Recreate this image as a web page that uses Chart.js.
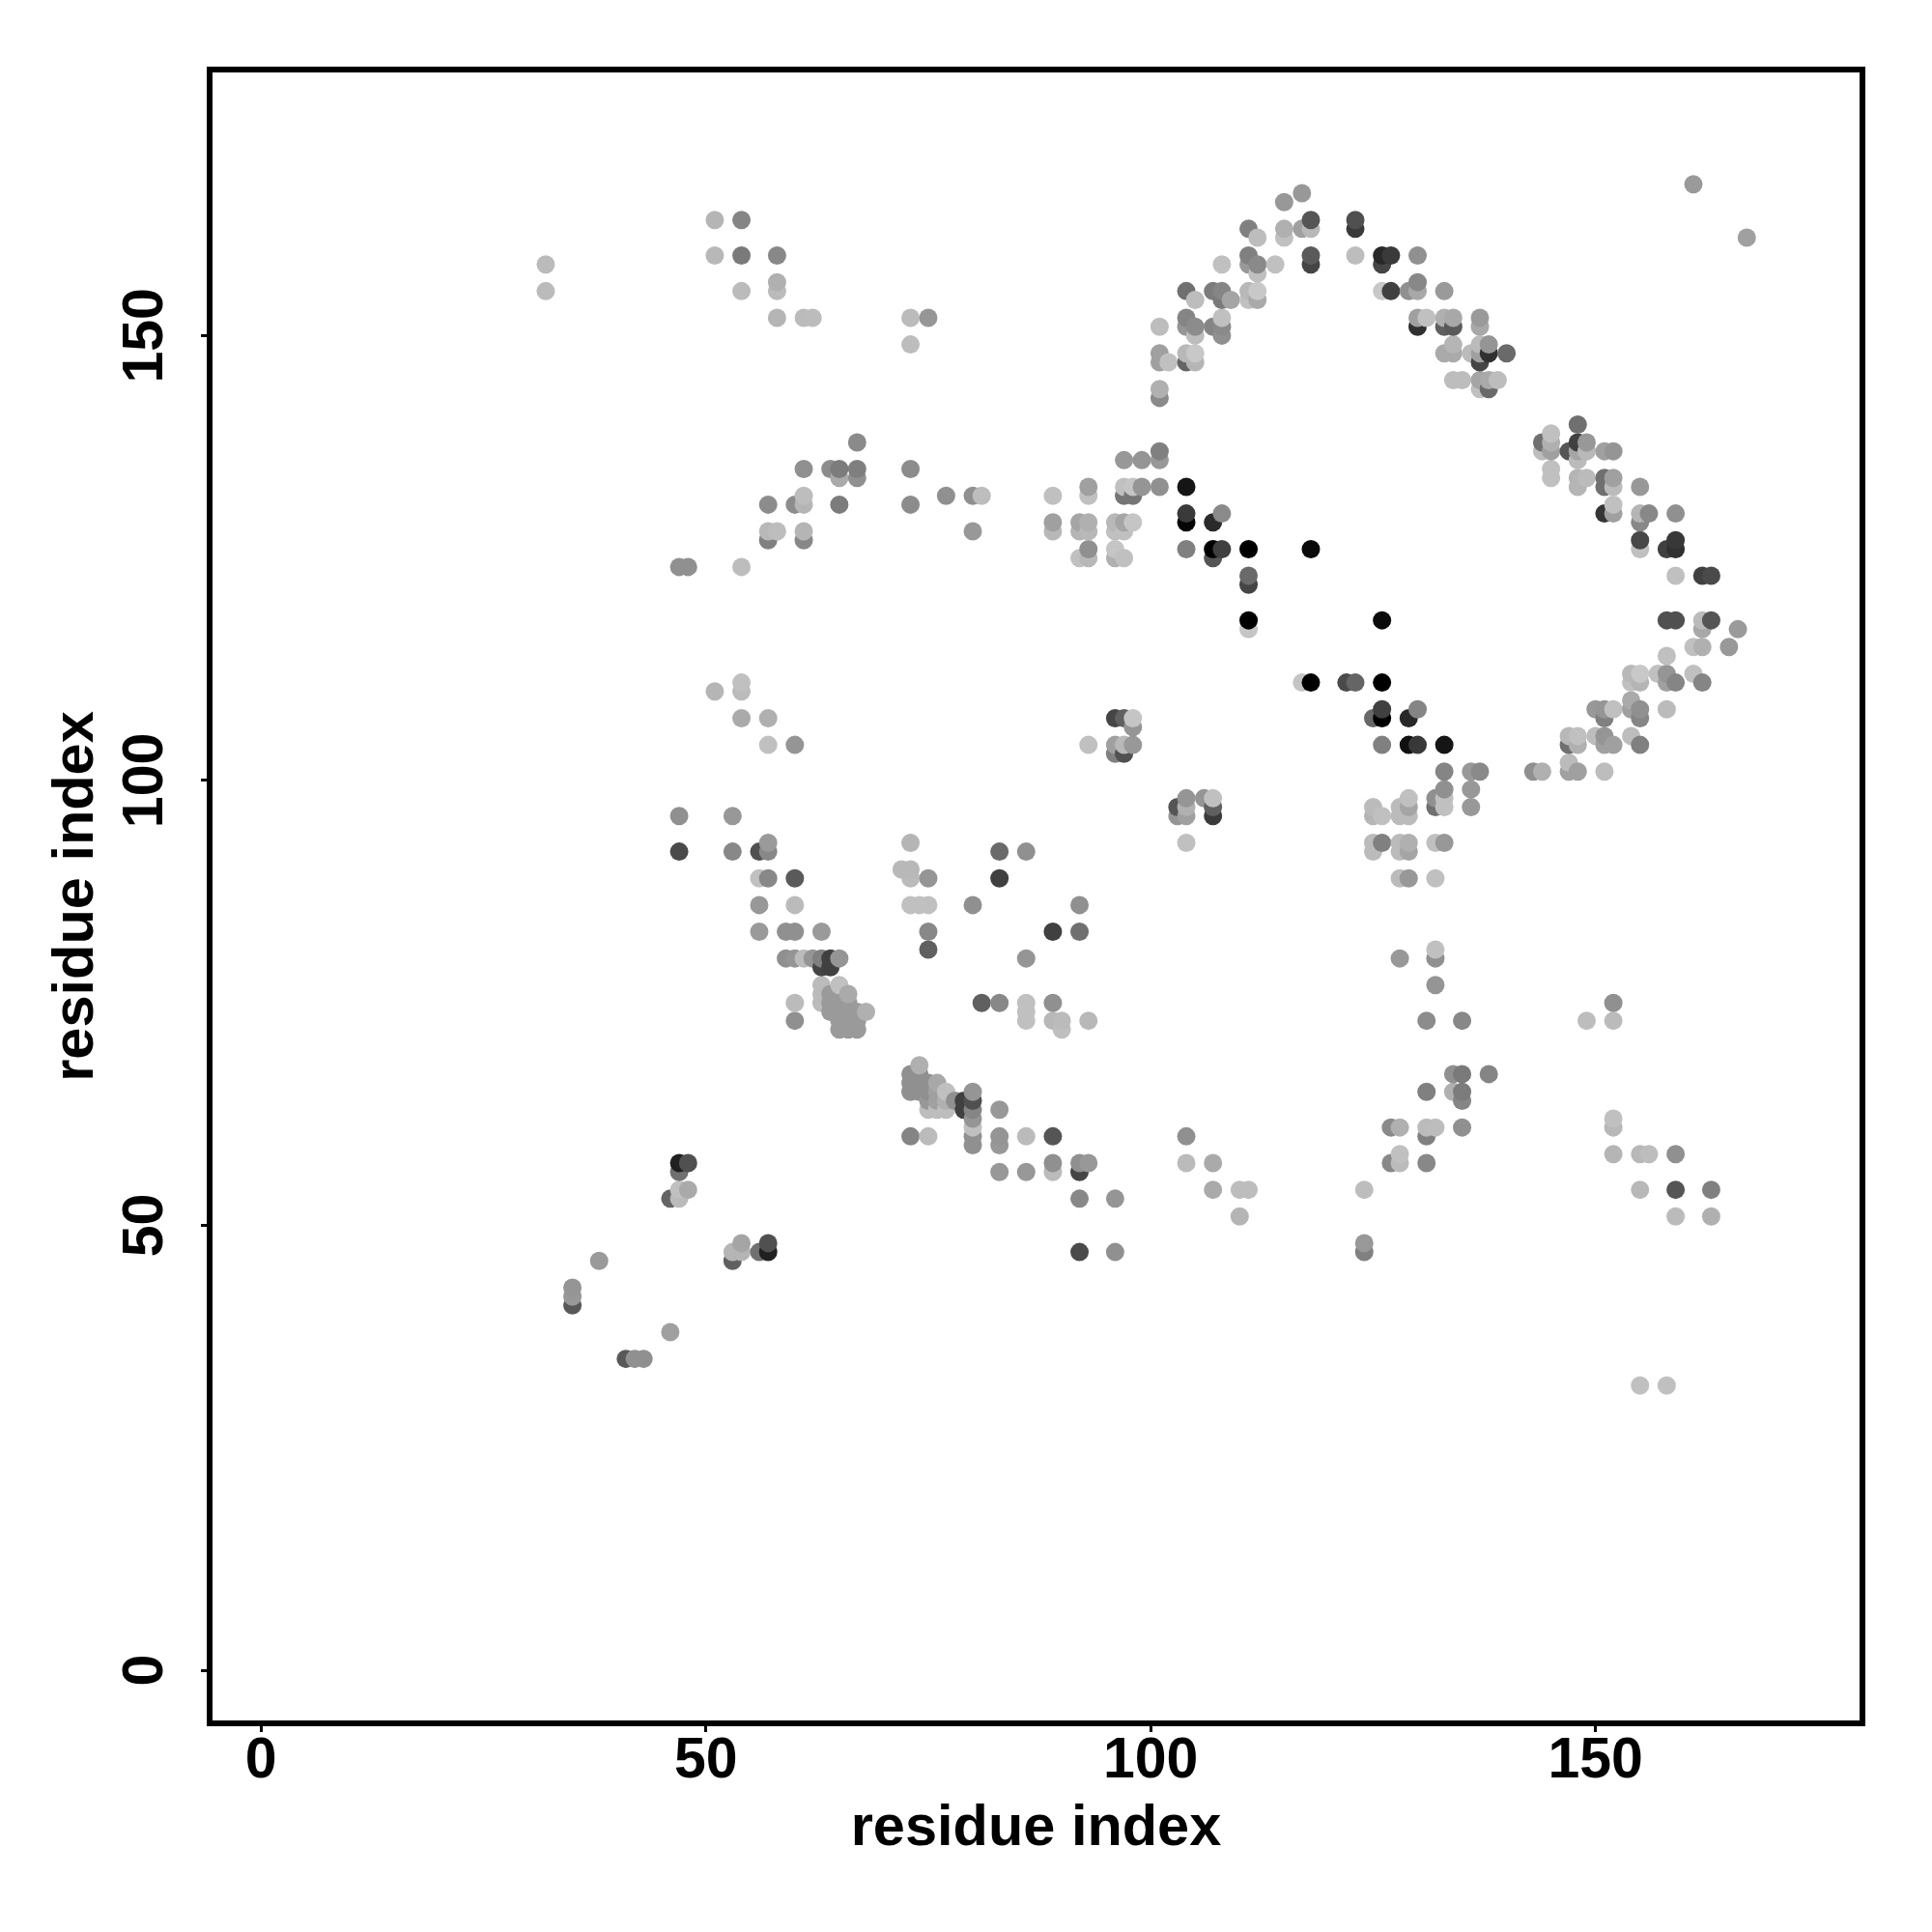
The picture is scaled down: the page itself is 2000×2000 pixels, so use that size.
<!DOCTYPE html>
<html>
<head>
<meta charset="utf-8">
<title>residue contacts</title>
<script src="https://cdn.jsdelivr.net/npm/chart.js@4/dist/chart.umd.min.js"></script>
<style>
    html, body { margin: 0; padding: 0; background: #fff; }
    canvas { display: block; }
</style>
</head>
<body>
<canvas id="contactChart" width="2000" height="2000"></canvas>
<script>
// Axis labels and ticks
const axisLabel = 'residue index';
const tickValues = [0, 50, 100, 150];

// One entry per residue on the x axis
const residueX = [
    32, 35, 38, 41, 42, 43, 46, 47, 48, 51, 53, 54, 56, 57, 58, 59, 60, 61, 62, 63,
    64, 65, 66, 67, 68, 72, 73, 74, 75, 76, 77, 78, 79, 80, 81, 83, 86, 89, 90, 92,
    93, 96, 97, 98, 99, 101, 102, 103, 104, 105, 106, 107, 108, 109, 110, 111, 112, 114, 115, 117,
    118, 122, 123, 124, 125, 126, 127, 128, 129, 130, 131, 132, 133, 134, 135, 136, 137, 138, 139, 140,
    143, 144, 145, 147, 148, 149, 150, 151, 152, 154, 155, 156, 157, 158, 159, 161, 162, 163, 165, 166, 167
];

// Contact partners of each residue in residueX
const residueY = [
    [155,158], [41,42,43], [46], [35], [35], [35], [38,53], [53,54,56,57,92,96,124], [54,57,124], [110,159,163],
    [46,47,92,96], [47,48,107,110,111,124,155,159,163], [47,83,86,89,92], [47,48,89,92,93,104,107,127,128,131],
    [128,152,155,156,159], [80,83], [73,75,80,83,86,89,104,131], [80,127,128,131,132,135,152], [80,152],
    [75,76,77,79,80,83],
    [74,75,76,79,80,135], [72,73,74,75,77,80,131,134,135], [72,73,74,75,76], [72,73,74,134,135,138], [74], [90],
    [60,65,66,67,86,89,90,93,131,135,149,152], [65,66,67,68,86], [60,63,64,65,66,81,83,86,89,152], [63,64,65,66],
    [63,64,65,132], [64], [63,64], [59,60,61,62,63,64,65,86,128,132], [75,132], [56,59,60,63,75,89,92],
    [56,60,73,74,75,80,92], [56,57,60,73,75,83,128,129,132], [72,73], [47,53,56,57,83,86,125,128,129],
    [57,73,104,125,126,128,129,132,133], [47,53,103,104,107,125,126,128,129], [103,104,107,125,128,129,132,133,136],
    [104,106,107,129,132,133], [133,136], [133,136,137,143,144,147,148,151], [147], [96,97],
    [57,60,93,96,97,98,126,129,130,133,147,148,151,152,155], [147,148,150,151,154], [98],
    [54,57,96,97,98,125,126,129,151,155], [126,130,150,151,152,154,155,158], [154], [51,54],
    [54,117,118,122,123,126,154,155,158,159,162], [154,155,157,158,161], [158], [161,162,165], [111,162,166],
    [111,126,158,159,162,163], [111], [111,159,162,163], [47,48,54], [92,93,96,97,107],
    [93,96,104,107,108,111,118,155,158,159], [57,61,155,159], [57,58,61,80,89,92,93,96,97],
    [89,92,93,96,97,98,104,107,155], [104,108,151,152,155,156,159], [57,60,61,65,73,152],
    [61,77,80,81,89,93,97,98], [93,97,98,99,101,104,148,151,152,155], [65,67,145,148,149,151,152],
    [61,64,65,67,73,145], [97,99,101,148], [101,144,145,147,148,149,151,152], [67,144,145,148,149], [145], [148],
    [101], [101,137,138], [134,135,137,138,139], [101,102,104,105,137], [101,104,105,133,134,136,137,138,140],
    [73,134,137,138], [105,108], [101,104,105,107,108,130,133,134,137], [58,61,62,73,75,104,108,130,131,133,134,137],
    [105,108,109,111,112], [32,54,58,104,107,108,111,112,126,127,129,130,133], [58,130], [112],
    [32,108,111,112,114,118,126], [51,54,58,111,118,123,126,127,130], [112,115,167], [111,115,117,118,123],
    [51,54,118,123], [115], [117], [161]
];

// Grey level of each contact, same layout as residueY
const greyLevel = [
    [0xbb,0xbb], [0x58,0x98,0x95], [0x9a], [0x58], [0x90], [0x90], [0xa0,0x65], [0xbb,0xc0,0x70,0x20,0x4a,0x90,0x90], [0xaa,0x50,0x90], [0xb5,0xb8,0xb5],
    [0x60,0xb5,0x88,0x98], [0xb5,0xa5,0xaa,0xbb,0xc0,0xbd,0xbb,0x7a,0x85], [0x70,0x9a,0x98,0xc0,0x50], [0x20,0x50,0x88,0x88,0x9a,0xc0,0xb0,0x80,0xb8,0x8c],
    [0xbd,0xb5,0xbb,0xb0,0x88], [0x90,0x90], [0x90,0xbb,0x95,0x90,0xbb,0x5a,0x95,0x8c], [0xbb,0x88,0xb5,0xb5,0xbd,0x90,0xbb], [0x95,0xbc],
    [0xbb,0xbb,0xbb,0x45,0x80,0x9a],
    [0x9a,0x9a,0x9a,0x40,0x40,0x8c], [0x9a,0x9a,0x9a,0x9a,0xc0,0x95,0x7c,0xaa,0x7c], [0x9a,0x9a,0x9a,0x9a,0xaa], [0x9a,0x9a,0x9a,0x90,0x7f,0x8a], [0xb0], [0xb8],
    [0x85,0x90,0x90,0x90,0xc0,0xbb,0xb8,0xb5,0x8c,0x8c,0xbd,0xbb], [0x90,0x90,0x90,0xb0,0xc0], [0xbb,0xbd,0x98,0x90,0x90,0x60,0x88,0xc0,0x95,0x96], [0xbd,0xa0,0xa0,0xa8],
    [0xbd,0xb0,0xc0,0x90], [0x90], [0x40,0x40], [0x90,0x90,0xc0,0x95,0x85,0x50,0x95,0x90,0x98,0x90], [0x60,0xbd], [0x98,0x98,0x95,0x98,0x88,0x40,0x6a],
    [0x98,0xbb,0xc0,0xc0,0xc0,0x95,0x90], [0xbb,0x90,0x55,0xb8,0x90,0x40,0xb8,0xa0,0xc0], [0xbf,0xbb], [0x4a,0x88,0x45,0x90,0x70,0x90,0xc0,0xb5,0xa5],
    [0x98,0xb8,0xc0,0xb8,0x90,0xb8,0xb0,0xc0,0xa0], [0x90,0x95,0x80,0xa0,0x45,0xb0,0xc5,0xc0,0xb8], [0x50,0xb8,0x60,0xc0,0xc0,0xa5,0x75,0xc0,0x98],
    [0x98,0x95,0xc5,0xc5,0x75,0xc5], [0x95,0x95], [0x90,0x98,0x80,0x8a,0xb0,0xa0,0xa0,0xbd], [0xc0], [0x95,0x55],
    [0xbb,0x90,0xc0,0xa0,0xb0,0x95,0x80,0x05,0x3a,0x15,0x65,0xb8,0x95,0x85,0x70], [0xb5,0xc8,0xbd,0x8c,0xbd], [0x95],
    [0xaa,0xaa,0x3a,0x60,0xc0,0x55,0x00,0x2a,0x85,0x7c], [0x40,0x8a,0x90,0x8a,0xc0,0x7a,0x85,0xc0], [0xa5], [0xb5,0xbd],
    [0xbd,0xc5,0x00,0x45,0x6a,0x00,0xc0,0xb8,0x98,0x80,0x80], [0xaa,0xc8,0xc0,0x8a,0xbd], [0xc0], [0xc0,0xb0,0x98], [0xc5,0xa0,0x98],
    [0x00,0x0a,0x45,0x5a,0xb8,0x55], [0x4a], [0x65,0xbd,0x3a,0x50], [0x80,0x98,0xbd], [0xbb,0xbb,0xb5,0xbb,0x68],
    [0x80,0xc0,0x80,0x00,0x40,0x00,0x0a,0xc8,0x45,0x28], [0x88,0x8a,0x40,0x3a], [0xbb,0xc0,0xb0,0x98,0xbb,0xbb,0xbb,0xbb,0xbb],
    [0x98,0xa5,0xb0,0xbb,0xa5,0xc0,0x10,0x28,0x90], [0x38,0x85,0x30,0xa0,0xa8,0x88,0x90], [0x88,0x80,0xbb,0x80,0x8c,0xc0],
    [0xbd,0x95,0x90,0xc0,0xc0,0xc0,0x70,0x90], [0x98,0xc0,0xc0,0x90,0x85,0x15,0xaa,0x60,0xb0,0x9a], [0xb0,0x90,0xbd,0xaa,0xb5,0x5a,0xa8],
    [0x90,0x85,0x7c,0x7a,0x88,0xbd], [0x98,0x98,0x98,0xbb], [0x8a,0xc0,0xa5,0x45,0xa0,0xbb,0xa8,0x9a], [0x85,0x6a,0xaa,0x30,0x95], [0xbd], [0x6a],
    [0x90], [0xb0,0xbd,0x70], [0xc0,0xc0,0xa0,0xb0,0xc0], [0xa0,0xbb,0x70,0xb8,0x55], [0xa0,0xb0,0xc0,0xb5,0xb5,0xbb,0xa5,0x40,0x70],
    [0xbd,0xbb,0xb8,0x98], [0xbd,0x98], [0xbd,0xa0,0x95,0x80,0x95,0x35,0x70,0x70,0xa0], [0xb5,0xb8,0xc0,0xbb,0x90,0xa0,0xc0,0xa0,0xc0,0xbb,0xa0,0x95],
    [0xbd,0xa0,0xaa,0xc0,0xb8], [0xc0,0xb8,0xb8,0x80,0x85,0x90,0xb5,0xc8,0xc0,0x48,0x88,0xb5,0x98], [0xbd,0x88], [0xc0],
    [0xc0,0xbb,0xa0,0x95,0xc0,0x50,0x40], [0xbb,0x55,0x90,0x85,0x50,0xc0,0x30,0x38,0x90], [0xc0,0xc0,0x9a], [0x85,0xb0,0xa8,0xbb,0x40],
    [0xb0,0x80,0x55,0x4a], [0x98], [0x9a], [0xa0]
];

// Flatten to points, drawn in x then y order so later ones sit on top
const points = residueX.flatMap((x, i) => residueY[i].map(y => ({ x: x, y: y })));
const colors = greyLevel.flat().map(g => `rgb(${g},${g},${g})`);

const fontFamily = '"Liberation Sans", Arial, sans-serif';

// Black frame around the plot area
const framePlugin = {
    id: 'frame',
    afterDraw(chart) {
        const { ctx, chartArea: a } = chart;
        ctx.save();
        ctx.strokeStyle = '#000';
        ctx.lineWidth = 6;
        ctx.strokeRect(a.left, a.top, a.right - a.left, a.bottom - a.top);
        ctx.restore();
    }
};

function setTicks(axis) {
    axis.ticks = tickValues.map(v => ({ value: v }));
}

new Chart(document.getElementById('contactChart'), {
    type: 'scatter',
    data: {
        datasets: [{
            data: points,
            backgroundColor: colors,
            borderWidth: 0,
            pointRadius: 9.5
        }]
    },
    options: {
        responsive: false,
        animation: false,
        layout: { padding: { left: 0, right: 72, top: 72, bottom: 0 } },
        plugins: { legend: { display: false }, tooltip: { enabled: false } },
        scales: {
            x: {
                type: 'linear',
                min: -5.78,
                max: 180.0,
                afterFit: s => { s.height = 216; },
                afterBuildTicks: setTicks,
                grid: { drawOnChartArea: false, color: '#000', lineWidth: 3, tickLength: 9 },
                border: { display: false },
                ticks: {
                    color: '#000',
                    padding: 1,
                    maxRotation: 0,
                    font: { family: fontFamily, size: 59, weight: 'bold', lineHeight: 1 }
                },
                title: {
                    display: true,
                    text: axisLabel,
                    color: '#000',
                    padding: { top: 0, bottom: 77 },
                    font: { family: fontFamily, size: 59.5, weight: 'bold', lineHeight: 1 }
                }
            },
            y: {
                type: 'linear',
                min: -5.97,
                max: 179.9,
                afterFit: s => { s.width = 217; },
                afterBuildTicks: setTicks,
                grid: { drawOnChartArea: false, color: '#000', lineWidth: 3, tickLength: 9 },
                border: { display: false },
                ticks: {
                    color: '#000',
                    padding: 7,
                    minRotation: 90,
                    maxRotation: 90,
                    crossAlign: 'center',
                    font: { family: fontFamily, size: 59, weight: 'bold', lineHeight: 1 }
                },
                title: {
                    display: true,
                    text: axisLabel,
                    color: '#000',
                    padding: { top: 50, bottom: 0 },
                    font: { family: fontFamily, size: 59.5, weight: 'bold', lineHeight: 1 }
                }
            }
        }
    },
    plugins: [framePlugin]
});
</script>
</body>
</html>
